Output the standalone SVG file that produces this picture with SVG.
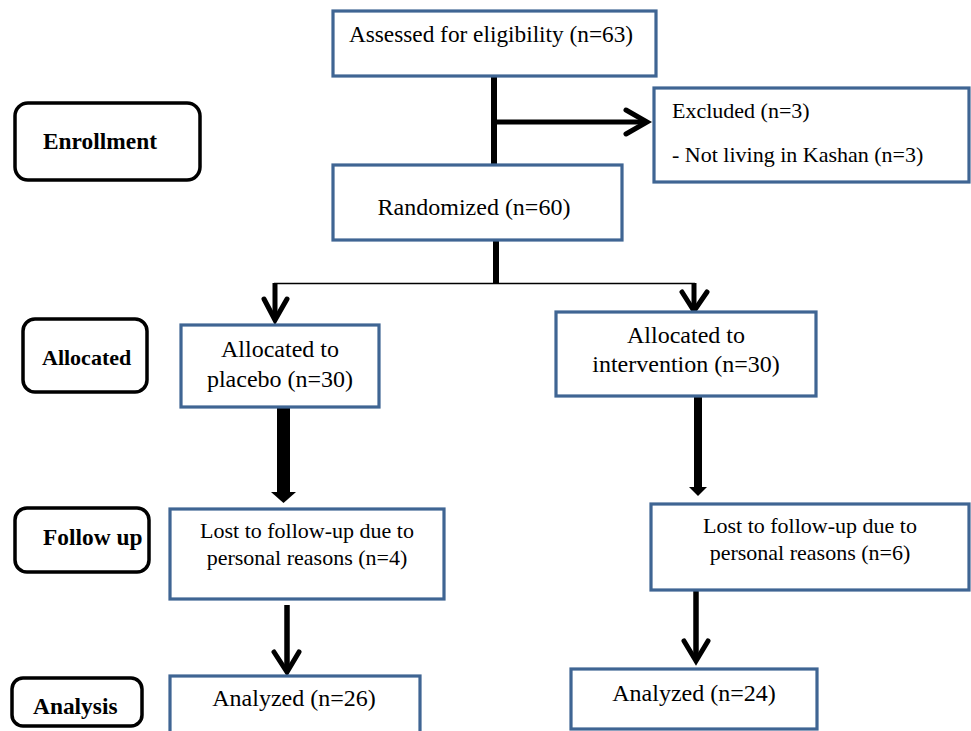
<svg xmlns="http://www.w3.org/2000/svg" width="971" height="731" viewBox="0 0 971 731">
<style>
.box{fill:#fff;stroke:#3f6593;stroke-width:3.2}
.lab{fill:#fff;stroke:#000;stroke-width:3.5}
.t{font-family:"Liberation Serif","Times New Roman",serif;font-size:22px;fill:#000}
.L{font-size:24px}
.c{text-anchor:middle}
.b{font-family:"Liberation Serif","Times New Roman",serif;font-size:23.4px;font-weight:bold;fill:#000}
.ln{stroke:#000;fill:none;stroke-linecap:butt}
.ch{stroke:#000;fill:none;stroke-width:5;stroke-linecap:round;stroke-linejoin:miter}
</style>
<rect width="971" height="731" fill="#fff"/>
<g id="connectors">
<line class="ln" x1="494" y1="77" x2="494" y2="165" stroke-width="6"/>
<line class="ln" x1="497" y1="122" x2="645" y2="122" stroke-width="5"/>
<polyline class="ch" points="626,110 647,122 626,134"/>
<line class="ln" x1="496" y1="240" x2="496" y2="284" stroke-width="6"/>
<line class="ln" x1="274" y1="283.5" x2="695" y2="283.5" stroke-width="1.5"/>
<line class="ln" x1="275" y1="283" x2="275" y2="319" stroke-width="5"/>
<polyline class="ch" points="264,299 275,320 287,299"/>
<line class="ln" x1="694" y1="283" x2="694" y2="310" stroke-width="5"/>
<polyline class="ch" points="682,292 694,311 707,292"/>
<rect x="277" y="407" width="13" height="86" fill="#000"/>
<polygon points="271,492 296,492 283.5,503" fill="#000"/>
<rect x="694" y="396" width="8" height="92" fill="#000"/>
<polygon points="689,487 707,487 698,496" fill="#000"/>
<line class="ln" x1="287" y1="605" x2="287" y2="670" stroke-width="5.5"/>
<polyline class="ch" points="274,652 287,672 299,652"/>
<line class="ln" x1="696" y1="590" x2="696" y2="660" stroke-width="5.5"/>
<polyline class="ch" points="684,641 696,661 708,641"/>
</g>
<g id="enrollment">
<rect class="lab" x="15" y="103" width="185" height="77" rx="13"/>
<text class="b" x="43" y="149">Enrollment</text>
</g>
<g id="allocated">
<rect class="lab" x="23" y="319" width="124" height="73" rx="12"/>
<text class="b" x="42" y="365" style="font-size:22px">Allocated</text>
</g>
<g id="followup">
<rect class="lab" x="15" y="508" width="134" height="64" rx="12"/>
<text class="b" x="43" y="545">Follow up</text>
</g>
<g id="analysis">
<rect class="lab" x="12" y="678" width="130" height="48" rx="11"/>
<text class="b" x="33" y="714">Analysis</text>
</g>
<g id="assessed">
<rect class="box" x="333" y="11" width="323" height="65"/>
<text class="t c" x="491" y="42" style="font-size:23.3px">Assessed for eligibility (n=63)</text>
</g>
<g id="excluded">
<rect class="box" x="654" y="88" width="315" height="94"/>
<text class="t" x="672" y="118">Excluded (n=3)</text>
<text class="t" x="672" y="162">- Not living in Kashan (n=3)</text>
</g>
<g id="randomized">
<rect class="box" x="333" y="165" width="289" height="75"/>
<text class="t L c" x="474" y="215">Randomized (n=60)</text>
</g>
<g id="placebo">
<rect class="box" x="181" y="325" width="198" height="82"/>
<text class="t L c" x="280" y="357">Allocated to</text>
<text class="t L c" x="280" y="387">placebo (n=30)</text>
</g>
<g id="intervention">
<rect class="box" x="556" y="312" width="260" height="84"/>
<text class="t L c" x="686" y="343">Allocated to</text>
<text class="t L c" x="686" y="372">intervention (n=30)</text>
</g>
<g id="lost-placebo">
<rect class="box" x="170" y="509" width="274" height="90"/>
<text class="t c" x="307" y="538">Lost to follow-up due to</text>
<text class="t c" x="307" y="565">personal reasons (n=4)</text>
</g>
<g id="lost-intervention">
<rect class="box" x="651" y="504" width="318" height="86"/>
<text class="t c" x="810" y="533">Lost to follow-up due to</text>
<text class="t c" x="810" y="560">personal reasons (n=6)</text>
</g>
<g id="analyzed-placebo">
<rect class="box" x="170" y="676" width="250" height="70"/>
<text class="t L c" x="294" y="706">Analyzed (n=26)</text>
</g>
<g id="analyzed-intervention">
<rect class="box" x="571" y="669" width="246" height="60"/>
<text class="t L c" x="694" y="701">Analyzed (n=24)</text>
</g>
</svg>
